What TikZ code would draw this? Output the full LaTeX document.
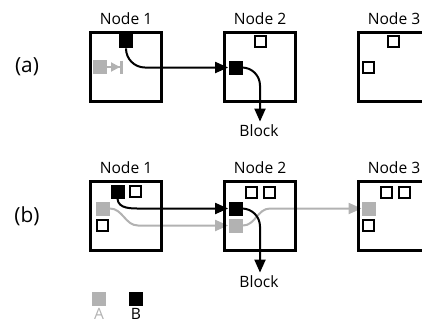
\documentclass[tikz,border=0pt]{standalone}
\usepackage{fontspec}
\setmainfont{Open Sans}
\usetikzlibrary{arrows.meta, positioning, backgrounds}
\definecolor{lgray}{RGB}{178,178,178}

\begin{document}
\begin{tikzpicture}[
  x=0.5pt, y=-0.5pt,
  box/.style={draw, line width=1.5pt, minimum width=35.5pt, minimum height=34.5pt, inner sep=0pt},
  full/.style={fill=#1, minimum size=7pt, inner sep=0pt},
  free/.style={draw, line width=1pt, fill=white, minimum size=5.5pt, inner sep=0pt},
  txt/.style={font=\fontsize{7.8}{9}\selectfont, inner sep=0pt},
  tag/.style={font=\fontsize{10.4}{12}\selectfont, inner sep=0pt},
  wire/.style={line width=1pt},
  arrow/.style={line width=1pt, -{Triangle[length=6.5pt,width=5.5pt]}}
]
  \clip (0,0) rectangle (422,323);

  % (a)
  \node (pa) [tag] at (27,67) {(a)};
  \node (na1) [box] at (126,67) {};
  \node (na2) [box] at (260,67) {};
  \node (na3) [box] at (394,67) {};
  \node (ta1) [txt, above=3pt of na1] {Node 1};
  \node (ta2) [txt, above=3pt of na2] {Node 2};
  \node (ta3) [txt, above=3pt of na3] {Node 3};

  \node (a1B) [full=black] at (126,41) {};
  \node (a1A) [full=lgray] at (100,67) {};
  \node (a2B) [full=black] at (235.5,67.5) {};
  \node (a2o) [free] at (260.5,41) {};
  \node (a3o) [free] at (393.5,41) {};
  \node (a3p) [free] at (368,67.5) {};
  \coordinate (stopA) at (123,67);
  \node (blka) [txt] at (259,131) {Block};

  % (b)
  \node (pb) [tag] at (27,216) {(b)};
  \node (nb1) [box] at (126,216) {};
  \node (nb2) [box] at (260,216) {};
  \node (nb3) [box] at (394,216) {};
  \node (tb1) [txt, above=3pt of nb1] {Node 1};
  \node (tb2) [txt, above=3pt of nb2] {Node 2};
  \node (tb3) [txt, above=3pt of nb3] {Node 3};

  \node (b1B) [full=black] at (117.5,191.5) {};
  \node (b1o) [free] at (135.5,191.5) {};
  \node (b1A) [full=lgray] at (102.5,208.5) {};
  \node (b1p) [free] at (102,225.5) {};
  \node (b2o) [free] at (251.5,192) {};
  \node (b2q) [free] at (269,192) {};
  \node (b2B) [full=black] at (235.5,208.5) {};
  \node (b2A) [full=lgray] at (235.5,225.5) {};
  \node (b3o) [free] at (386,192) {};
  \node (b3q) [free] at (404,192) {};
  \node (b3A) [full=lgray] at (369,208.5) {};
  \node (b3p) [free] at (368.5,225.5) {};
  \coordinate (bendB) at (142,208.5);
  \coordinate (bendA) at (138,225.5);
  \coordinate (bendC) at (270,208.5);
  \node (blkb) [txt] at (259,282) {Block};

  % key
  \node (keyA) [full=lgray] at (99,298.5) {};
  \node (keyB) [full=black] at (136,298.5) {};
  \node (labA) [txt, text=lgray, below=1pt of keyA] {A};
  \node (labB) [txt, below=1pt of keyB] {B};

  \begin{scope}[on background layer]
    \draw [wire, lgray, -{Triangle[length=4.5pt,width=4.5pt]Bar[width=6.5pt,line width=1.5pt]}] (a1A.east) -- (stopA);
    \draw [arrow, rounded corners=9.5pt] (a1B.south) |- (a2B.west);
    \draw [arrow, rounded corners=9pt] (a2B.east) -| ([xshift=0.5pt,yshift=1.5pt]blka.north);

    \draw [arrow, lgray] (b1A.east) to[out=0,in=180] (bendA) -- (b2A.west);
    \draw [arrow, lgray] (b2A.east) to[out=0,in=180] (bendC) -- (b3A.west);
    \draw [arrow] (b1B.south) to[out=-85,in=180] (bendB) -- (b2B.west);
    \draw [arrow, rounded corners=9pt] (b2B.east) -| ([xshift=0.5pt,yshift=1.5pt]blkb.north);
  \end{scope}
\end{tikzpicture}
\end{document}
